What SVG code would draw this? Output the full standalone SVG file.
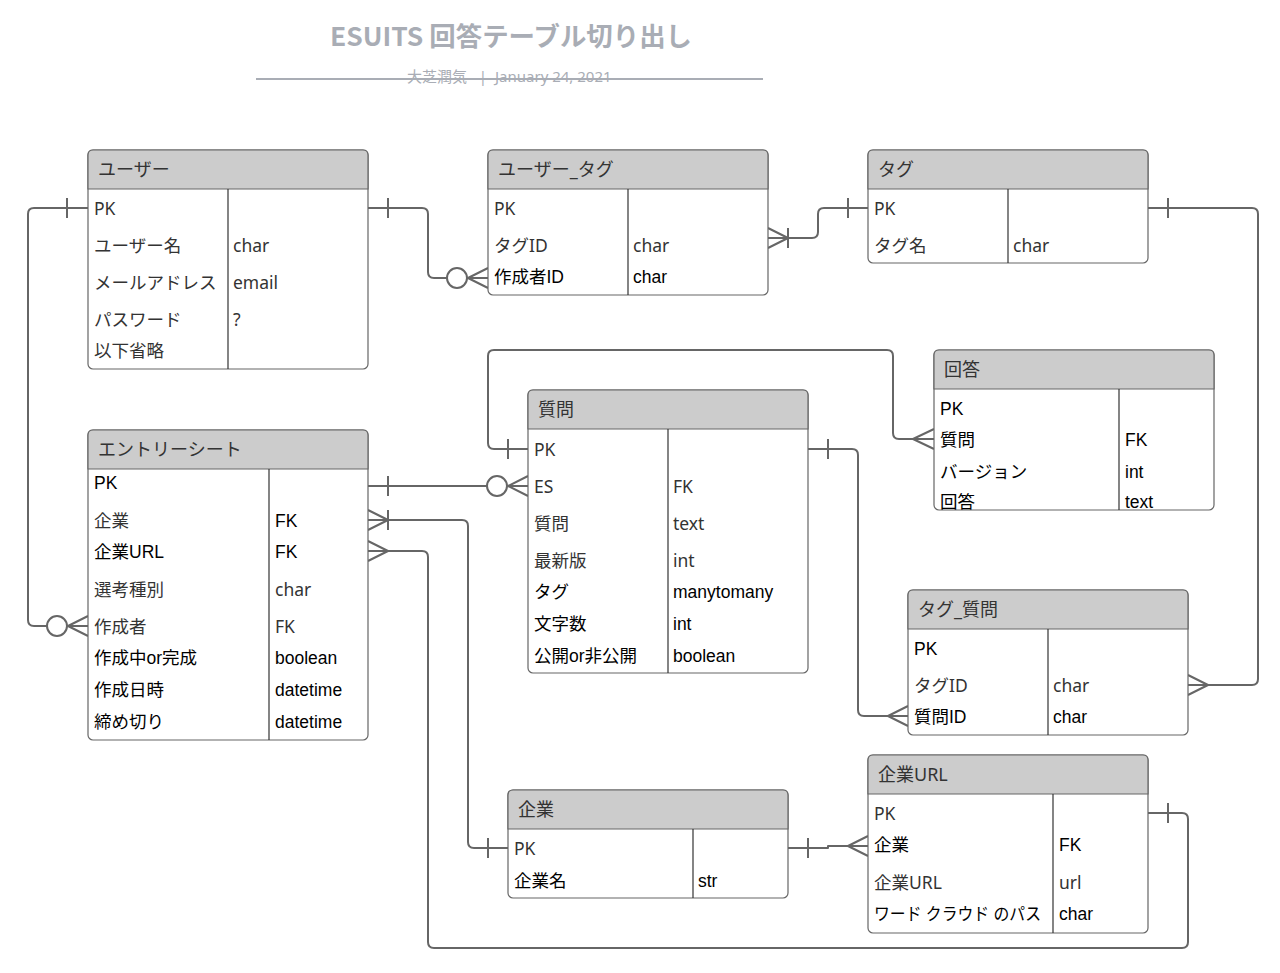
<svg xmlns="http://www.w3.org/2000/svg" width="1280" height="973" viewBox="0 0 1280 973">
<style>
.tb{fill:#fff;stroke:#666;stroke-width:1.2}
.hd{fill:#ccc;stroke:#666;stroke-width:1.2}
.dv{stroke:#333;stroke-width:1.2}
.ht{font-family:"Noto Sans","Noto Sans CJK JP",sans-serif;font-size:18px;fill:#333}
.l{font-family:"Noto Sans","Noto Sans CJK JP",sans-serif;font-size:17.5px;fill:#333}
.a{font-family:"Liberation Sans","Noto Sans CJK JP",sans-serif;font-size:17.5px;fill:#000}
.cn{fill:none;stroke:#666;stroke-width:2;stroke-linejoin:round}
.ci{fill:#fff;stroke:#666;stroke-width:2}
.st{font-family:"Noto Sans","Noto Sans CJK JP",sans-serif;font-size:15px;fill:#a9adb5}
</style>
<rect width="1280" height="973" fill="#fff"/>
<g id="title">
<text x="330" y="46" textLength="362" lengthAdjust="spacingAndGlyphs" font-family="'Noto Sans CJK JP',sans-serif" font-weight="bold" font-size="26" fill="#a9adb5">ESUITS 回答テーブル切り出し</text>
<line x1="256" y1="79" x2="763" y2="79" stroke="#a9adb5" stroke-width="2"/>
<text class="st" x="437" y="82" text-anchor="middle">大芝潤気</text>
<text class="st" x="483" y="82" text-anchor="middle">|</text>
<text class="st" x="495" y="82">January 24, 2021</text>
</g>
<g id="connectors">
<path class="cn" d="M88,208 H34 Q28,208 28,214 V620 Q28,626 34,626 H88"/>
<path class="cn" d="M368,208 H422 Q428,208 428,214 V272 Q428,278 434,278 H488"/>
<path class="cn" d="M768,238 H812 Q818,238 818,232 V214 Q818,208 824,208 H868"/>
<path class="cn" d="M1148,208 H1252 Q1258,208 1258,214 V679 Q1258,685 1252,685 H1188"/>
<path class="cn" d="M528,449 H494 Q488,449 488,443 V356 Q488,350 494,350 H887 Q893,350 893,356 V433 Q893,439 899,439 H934"/>
<path class="cn" d="M368,486 H528"/>
<path class="cn" d="M808,449 H852 Q858,449 858,455 V710 Q858,716 864,716 H908"/>
<path class="cn" d="M368,520 H462 Q468,520 468,526 V842 Q468,848 474,848 H508"/>
<path class="cn" d="M368,551 H422 Q428,551 428,557 V942 Q428,948 434,948 H1182 Q1188,948 1188,942 V819 Q1188,813 1182,813 H1148"/>
<path class="cn" d="M788,848 H828 V846 H868"/>
<path class="cn" d="M67,198 V218 M388,198 V218 M788,228 V248 M848,198 V218 M1168,198 V218 M508,439 V459 M388,476 V496 M828,439 V459 M388,510 V530 M488,838 V858 M1168,803 V823 M808,838 V858"/>
<path class="cn" d="M88,616 L68,626 L88,636 M488,268 L468,278 L488,288 M768,228 L788,238 L768,248 M1188,675 L1208,685 L1188,695 M934,429 L913,439 L934,449 M528,476 L508,486 L528,496 M908,706 L888,716 L908,726 M368,510 L388,520 L368,530 M368,541 L388,551 L368,561 M868,836 L848,846 L868,856"/>
<circle class="ci" cx="57" cy="626" r="10"/>
<circle class="ci" cx="457" cy="278" r="10"/>
<circle class="ci" cx="497" cy="486" r="10"/>
</g>
<g id="user">
<rect class="tb" x="88" y="150" width="280" height="219" rx="5"/>
<path class="hd" d="M88,189 V155 Q88,150 93,150 H363 Q368,150 368,155 V189 Z"/>
<line class="dv" x1="228" y1="189" x2="228" y2="369"/>
<text class="ht" x="98" y="176">ユーザー</text>
<text class="l" x="94" y="215">PK</text>
<text class="l" x="94" y="252">ユーザー名</text><text class="l" x="233" y="252">char</text>
<text class="l" x="94" y="289">メールアドレス</text><text class="l" x="233" y="289">email</text>
<text class="l" x="94" y="326">パスワード</text><text class="l" x="233" y="326">?</text>
<text class="l" x="94" y="357">以下省略</text>
</g>
<g id="user_tag">
<rect class="tb" x="488" y="150" width="280" height="145" rx="5"/>
<path class="hd" d="M488,189 V155 Q488,150 493,150 H763 Q768,150 768,155 V189 Z"/>
<line class="dv" x1="628" y1="189" x2="628" y2="295"/>
<text class="ht" x="498" y="176">ユーザー_タグ</text>
<text class="l" x="494" y="215">PK</text>
<text class="l" x="494" y="252">タグID</text><text class="l" x="633" y="252">char</text>
<text class="a" x="494" y="283">作成者ID</text><text class="a" x="633" y="283">char</text>
</g>
<g id="tag">
<rect class="tb" x="868" y="150" width="280" height="113" rx="5"/>
<path class="hd" d="M868,189 V155 Q868,150 873,150 H1143 Q1148,150 1148,155 V189 Z"/>
<line class="dv" x1="1008" y1="189" x2="1008" y2="263"/>
<text class="ht" x="878" y="176">タグ</text>
<text class="l" x="874" y="215">PK</text>
<text class="l" x="874" y="252">タグ名</text><text class="l" x="1013" y="252">char</text>
</g>
<g id="answer">
<rect class="tb" x="934" y="350" width="280" height="160" rx="5"/>
<path class="hd" d="M934,389 V355 Q934,350 939,350 H1209 Q1214,350 1214,355 V389 Z"/>
<line class="dv" x1="1119" y1="389" x2="1119" y2="510"/>
<text class="ht" x="944" y="376">回答</text>
<text class="a" x="940" y="415">PK</text>
<text class="a" x="940" y="446">質問</text><text class="a" x="1125" y="446">FK</text>
<text class="a" x="940" y="478">バージョン</text><text class="a" x="1125" y="478">int</text>
<text class="a" x="940" y="508">回答</text><text class="a" x="1125" y="508">text</text>
</g>
<g id="question">
<rect class="tb" x="528" y="390" width="280" height="283" rx="5"/>
<path class="hd" d="M528,429 V395 Q528,390 533,390 H803 Q808,390 808,395 V429 Z"/>
<line class="dv" x1="668" y1="429" x2="668" y2="673"/>
<text class="ht" x="538" y="416">質問</text>
<text class="l" x="534" y="456">PK</text>
<text class="l" x="534" y="493">ES</text><text class="l" x="673" y="493">FK</text>
<text class="l" x="534" y="530">質問</text><text class="l" x="673" y="530">text</text>
<text class="l" x="534" y="567">最新版</text><text class="l" x="673" y="567">int</text>
<text class="a" x="534" y="598">タグ</text><text class="a" x="673" y="598">manytomany</text>
<text class="a" x="534" y="630">文字数</text><text class="a" x="673" y="630">int</text>
<text class="a" x="534" y="662">公開or非公開</text><text class="a" x="673" y="662">boolean</text>
</g>
<g id="entry_sheet">
<rect class="tb" x="88" y="430" width="280" height="310" rx="5"/>
<path class="hd" d="M88,469 V435 Q88,430 93,430 H363 Q368,430 368,435 V469 Z"/>
<line class="dv" x1="269" y1="469" x2="269" y2="740"/>
<text class="ht" x="98" y="456">エントリーシート</text>
<text class="a" x="94" y="489">PK</text>
<text class="l" x="94" y="527">企業</text><text class="a" x="275" y="527">FK</text>
<text class="a" x="94" y="558">企業URL</text><text class="a" x="275" y="558">FK</text>
<text class="l" x="94" y="596">選考種別</text><text class="l" x="275" y="596">char</text>
<text class="l" x="94" y="633">作成者</text><text class="l" x="275" y="633">FK</text>
<text class="a" x="94" y="664">作成中or完成</text><text class="a" x="275" y="664">boolean</text>
<text class="a" x="94" y="696">作成日時</text><text class="a" x="275" y="696">datetime</text>
<text class="a" x="94" y="728">締め切り</text><text class="a" x="275" y="728">datetime</text>
</g>
<g id="tag_question">
<rect class="tb" x="908" y="590" width="280" height="145" rx="5"/>
<path class="hd" d="M908,629 V595 Q908,590 913,590 H1183 Q1188,590 1188,595 V629 Z"/>
<line class="dv" x1="1048" y1="629" x2="1048" y2="735"/>
<text class="ht" x="918" y="616">タグ_質問</text>
<text class="a" x="914" y="655">PK</text>
<text class="l" x="914" y="692">タグID</text><text class="l" x="1053" y="692">char</text>
<text class="a" x="914" y="723">質問ID</text><text class="a" x="1053" y="723">char</text>
</g>
<g id="company">
<rect class="tb" x="508" y="790" width="280" height="108" rx="5"/>
<path class="hd" d="M508,829 V795 Q508,790 513,790 H783 Q788,790 788,795 V829 Z"/>
<line class="dv" x1="693" y1="829" x2="693" y2="898"/>
<text class="ht" x="518" y="816">企業</text>
<text class="l" x="514" y="855">PK</text>
<text class="a" x="514" y="887">企業名</text><text class="a" x="698" y="887">str</text>
</g>
<g id="company_url">
<rect class="tb" x="868" y="755" width="280" height="178" rx="5"/>
<path class="hd" d="M868,794 V760 Q868,755 873,755 H1143 Q1148,755 1148,760 V794 Z"/>
<line class="dv" x1="1053" y1="794" x2="1053" y2="933"/>
<text class="ht" x="878" y="781">企業URL</text>
<text class="l" x="874" y="820">PK</text>
<text class="a" x="874" y="851">企業</text><text class="a" x="1059" y="851">FK</text>
<text class="l" x="874" y="889">企業URL</text><text class="l" x="1059" y="889">url</text>
<text class="a" x="874" y="920" textLength="167" lengthAdjust="spacingAndGlyphs">ワード クラウド のパス</text><text class="a" x="1059" y="920">char</text>
</g>
</svg>
